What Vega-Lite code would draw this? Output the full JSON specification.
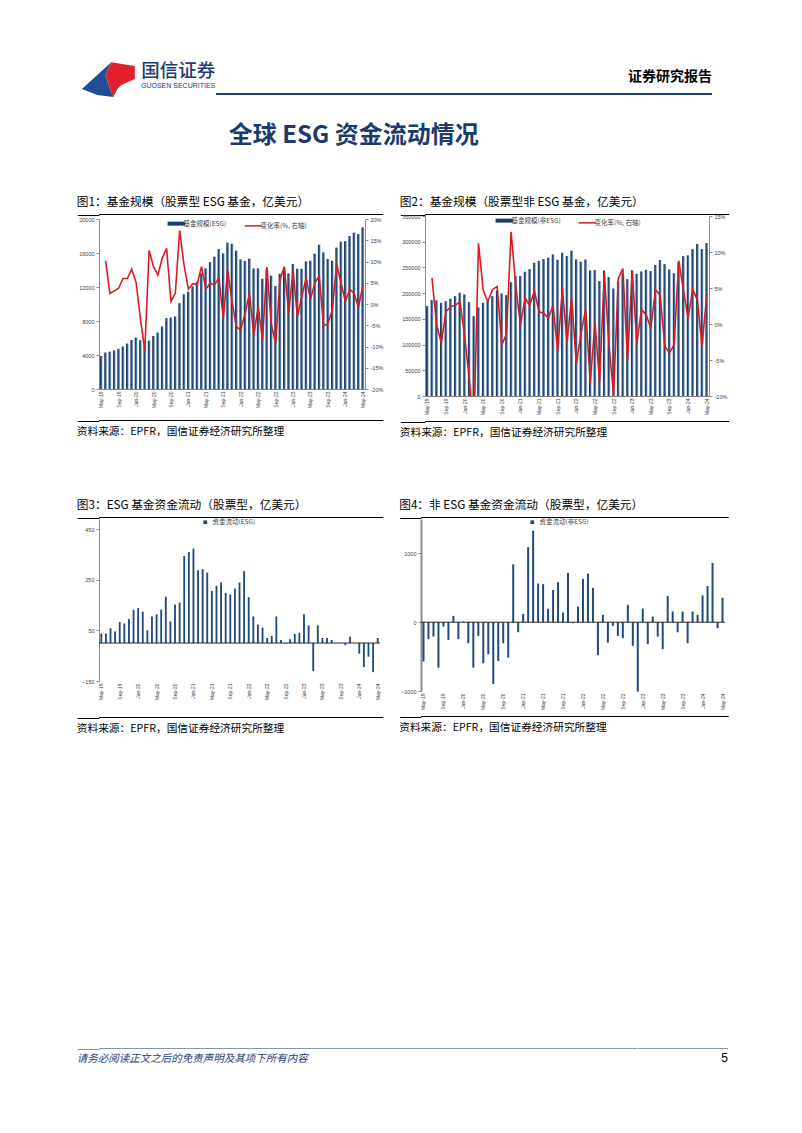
{
  "$schema": "https://vega.github.io/schema/vega-lite/v6.json",
  "background": "white",
  "padding": {"left": 76, "top": 61, "right": 0, "bottom": 0},
  "config": {
    "font": "Noto Sans CJK SC",
    "view": {"stroke": null},
    "axis": {"labelFont": "Liberation Sans", "labelFontSize": 5.5, "labelColor": "#404040", "domainColor": "#8c8c8c", "tickColor": "#8c8c8c", "tickSize": 3, "grid": false, "labelPadding": 2, "labelOverlap": false},
    "legend": {"labelFont": "Noto Sans CJK SC", "labelFontSize": 6.5, "labelColor": "#404040"},
    "title": {"font": "Noto Sans CJK SC", "color": "#000000", "fontWeight": "normal", "anchor": "start"}
  },
  "datasets": {
    "d": [
      {"m":"May-19","a":3890,"ap":null,"b":174700,"bp":null,"c":38,"f":-572},
      {"m":"Jun-19","a":4300,"ap":10.2,"b":186400,"bp":6.4,"c":38,"f":-247},
      {"m":"Jul-19","a":4400,"ap":2.5,"b":186000,"bp":-0.1,"c":58,"f":-209},
      {"m":"Aug-19","a":4540,"ap":3.1,"b":181200,"bp":-2.6,"c":46,"f":-660},
      {"m":"Sep-19","a":4720,"ap":3.7,"b":184300,"bp":1.7,"c":83,"f":-63},
      {"m":"Oct-19","a":5000,"ap":6.0,"b":189000,"bp":2.4,"c":77,"f":-257},
      {"m":"Nov-19","a":5350,"ap":6.0,"b":194200,"bp":2.6,"c":95,"f":92},
      {"m":"Dec-19","a":5760,"ap":8.2,"b":200700,"bp":3.1,"c":131,"f":-247},
      {"m":"Jan-20","a":6060,"ap":5.1,"b":197400,"bp":-1.6,"c":138,"f":10},
      {"m":"Feb-20","a":5740,"ap":-3.5,"b":182500,"bp":-7.5,"c":124,"f":-306},
      {"m":"Mar-20","a":5140,"ap":-10.9,"b":155200,"bp":-15,"c":50,"f":-660},
      {"m":"Apr-20","a":5700,"ap":12.6,"b":172100,"bp":11.2,"c":105,"f":-199},
      {"m":"May-20","a":6250,"ap":8.8,"b":181200,"bp":4.7,"c":113,"f":-597},
      {"m":"Jun-20","a":6640,"ap":6.8,"b":185100,"bp":3.1,"c":132,"f":-466},
      {"m":"Jul-20","a":7350,"ap":10.8,"b":194200,"bp":4.8,"c":183,"f":-897},
      {"m":"Aug-20","a":8330,"ap":13.1,"b":205200,"bp":5.2,"c":85,"f":-563},
      {"m":"Sep-20","a":8410,"ap":0.6,"b":199400,"bp":-2.9,"c":152,"f":-306},
      {"m":"Oct-20","a":8530,"ap":2.5,"b":196100,"bp":-1.4,"c":160,"f":-514},
      {"m":"Nov-20","a":10100,"ap":17.3,"b":221400,"bp":12.8,"c":344,"f":841},
      {"m":"Dec-20","a":11150,"ap":9.2,"b":233100,"bp":5.2,"c":360,"f":-146},
      {"m":"Jan-21","a":11450,"ap":3.5,"b":233100,"bp":-0.1,"c":373,"f":121},
      {"m":"Feb-21","a":12080,"ap":4.8,"b":241600,"bp":3.6,"c":288,"f":1090},
      {"m":"Mar-21","a":12590,"ap":4.6,"b":246800,"bp":2.6,"c":292,"f":1330},
      {"m":"Apr-21","a":13600,"ap":8.8,"b":259100,"bp":4.6,"c":278,"f":562},
      {"m":"May-21","a":14190,"ap":3.5,"b":263000,"bp":1.7,"c":206,"f":553},
      {"m":"Jun-21","a":14940,"ap":4.9,"b":266300,"bp":1.5,"c":226,"f":195},
      {"m":"Jul-21","a":15570,"ap":4.5,"b":268800,"bp":0.8,"c":239,"f":470},
      {"m":"Aug-21","a":16470,"ap":6.1,"b":275300,"bp":2.6,"c":198,"f":582},
      {"m":"Sep-21","a":15960,"ap":-3.4,"b":265000,"bp":-3.8,"c":192,"f":141},
      {"m":"Oct-21","a":17220,"ap":8.0,"b":278600,"bp":5.0,"c":215,"f":716},
      {"m":"Nov-21","a":17100,"ap":0.6,"b":272100,"bp":-2.6,"c":239,"f":-15},
      {"m":"Dec-21","a":16280,"ap":-5.4,"b":282500,"bp":3.7,"c":284,"f":226},
      {"m":"Jan-22","a":15250,"ap":-6.1,"b":265600,"bp":-5.6,"c":181,"f":630},
      {"m":"Feb-22","a":15060,"ap":-2.2,"b":261100,"bp":-1.3,"c":105,"f":706},
      {"m":"Mar-22","a":15340,"ap":2.5,"b":265600,"bp":2.0,"c":72,"f":500},
      {"m":"Apr-22","a":14190,"ap":-7.3,"b":244200,"bp":-8.2,"c":61,"f":-480},
      {"m":"May-22","a":14190,"ap":-0.6,"b":244800,"bp":0.2,"c":20,"f":107},
      {"m":"Jun-22","a":12980,"ap":-8.5,"b":223400,"bp":-8.1,"c":28,"f":-296},
      {"m":"Jul-22","a":14080,"ap":8.7,"b":244200,"bp":7.1,"c":105,"f":-53},
      {"m":"Aug-22","a":13340,"ap":-4.6,"b":231200,"bp":-2.7,"c":12,"f":-199},
      {"m":"Sep-22","a":12110,"ap":-9.4,"b":209100,"bp":-9.9,"c":-2,"f":-233},
      {"m":"Oct-22","a":13570,"ap":5.7,"b":221500,"bp":6.3,"c":15,"f":252},
      {"m":"Nov-22","a":14230,"ap":8.8,"b":238500,"bp":7.7,"c":36,"f":-344},
      {"m":"Dec-22","a":13600,"ap":-2.2,"b":227300,"bp":-5.0,"c":40,"f":-1009},
      {"m":"Jan-23","a":14700,"ap":7.9,"b":244200,"bp":7.4,"c":114,"f":199},
      {"m":"Feb-23","a":14160,"ap":-3.0,"b":237600,"bp":-2.7,"c":70,"f":-320},
      {"m":"Mar-23","a":14160,"ap":1.7,"b":242300,"bp":2.0,"c":-111,"f":82},
      {"m":"Apr-23","a":15020,"ap":6.1,"b":245500,"bp":1.3,"c":70,"f":-209},
      {"m":"May-23","a":15100,"ap":1.1,"b":243000,"bp":-0.6,"c":20,"f":-393},
      {"m":"Jun-23","a":15920,"ap":5.0,"b":254800,"bp":4.8,"c":20,"f":380},
      {"m":"Jul-23","a":16980,"ap":6.6,"b":264300,"bp":4.0,"c":12,"f":155},
      {"m":"Aug-23","a":16080,"ap":-5.2,"b":256500,"bp":-3.1,"c":0,"f":-146},
      {"m":"Sep-23","a":15290,"ap":-4.6,"b":246100,"bp":-4.0,"c":1,"f":155},
      {"m":"Oct-23","a":15100,"ap":-1.4,"b":238900,"bp":-2.9,"c":-9,"f":-306},
      {"m":"Nov-23","a":16630,"ap":9.4,"b":260000,"bp":8.8,"c":25,"f":155},
      {"m":"Dec-23","a":17330,"ap":4.9,"b":272000,"bp":4.7,"c":0,"f":107},
      {"m":"Jan-24","a":17400,"ap":0.6,"b":273500,"bp":0.8,"c":-42,"f":390},
      {"m":"Feb-24","a":17990,"ap":3.5,"b":285700,"bp":4.8,"c":-95,"f":524},
      {"m":"Mar-24","a":18390,"ap":2.5,"b":295500,"bp":3.3,"c":-54,"f":860},
      {"m":"Apr-24","a":18230,"ap":-0.8,"b":285700,"bp":-3.1,"c":-115,"f":-87},
      {"m":"May-24","a":19020,"ap":4.3,"b":297400,"bp":4.0,"c":20,"f":356}
    ]
  },
  "resolve": {"scale": {"color": "independent"}, "legend": {"color": "independent"}},
  "vconcat": [
    {
      "resolve": {"scale": {"color": "independent"}, "legend": {"color": "independent"}},
      "vconcat": [
        {
          "bounds": "flush",
          "hconcat": [
            {"width": 30, "height": 2, "data": {"values": [{}]},
             "layer": [
               {"mark": {"type": "point", "filled": true, "opacity": 1, "size": 3025, "color": "#1f4e96", "strokeWidth": 0,
                         "shape": "M-1.167,-0.182L-0.098,-1.153L-0.316,-0.691L-0.171,-0.255L-0.025,0.109L-0.607,0.036Z"}, "encoding": {}},
               {"mark": {"type": "point", "filled": true, "opacity": 1, "size": 3025, "color": "#e0202a", "strokeWidth": 0,
                         "shape": "M-0.098,-1.153L0.756,-1.018L0.756,-0.545L0.265,-0.327L0.12,-0.182L-0.025,0.109L-0.171,-0.255L-0.316,-0.691Z"}, "encoding": {}}
             ]},
            {"width": 86.3, "height": 2, "data": {"values": []}, "mark": "rule", "encoding": {},
             "title": {"text": "国信证券", "subtitle": "GUOSEN SECURITIES", "anchor": "end", "fontSize": 18.5, "fontWeight": 500, "color": "#1d3b78", "subtitleFont": "Liberation Sans", "subtitleFontSize": 7, "subtitleColor": "#1d3b78", "subtitlePadding": 2, "offset": 4}},
            {"width": 496, "height": 2, "data": {"values": []}, "mark": "rule", "encoding": {},
             "view": {"fill": "#1f3d7a", "stroke": null},
             "title": {"text": "证券研究报告", "anchor": "end", "fontSize": 14, "fontWeight": "bold", "color": "#000000", "offset": 9}}
          ],
          "spacing": 0
        },
        {
          "title": {"text": "全球 ESG 资金流动情况", "anchor": "start", "dx": 152, "fontSize": 24, "fontWeight": "bold", "color": "#1c3b6c", "offset": 49},
          "resolve": {"scale": {"color": "independent"}, "legend": {"color": "independent"}},
          "vconcat": [
            {
              "resolve": {"scale": {"color": "independent"}, "legend": {"color": "independent"}},
              "hconcat": [
                {
                  "resolve": {"scale": {"color": "independent"}, "legend": {"color": "independent"}},
                  "vconcat": [
                    {
                      "resolve": {"scale": {"color": "independent"}, "legend": {"color": "independent"}},
                      "vconcat": [
                        {"width": 284.3, "height": 1, "data": {"values": []}, "mark": "rule",
                         "encoding": {"y": {"datum": 0.5, "type": "quantitative", "scale": {"domain": [0, 1]}, "axis": {"values": [0.5], "tickSize": 21.7, "tickColor": "#000000", "tickWidth": 1, "labels": false, "domain": false, "title": null}}},
                         "view": {"fill": "#000000", "stroke": null},
                         "title": {"text": "图1：基金规模（股票型 ESG 基金，亿美元）", "fontSize": 11.7, "offset": 5}},
                        {
                          "width": 266, "height": 170,
                          "data": {"name": "d"},
                          "layer": [
                            {"mark": {"type": "bar", "fill": {"gradient": "linear", "x1": 0, "y1": 0, "x2": 1, "y2": 0, "stops": [{"offset": 0, "color": "#0e2a50"}, {"offset": 0.55, "color": "#2d5a8c"}, {"offset": 1, "color": "#9db6d2"}]}},
                             "encoding": {
                               "x": {"field": "m", "type": "ordinal", "sort": null, "title": null, "scale": {"paddingInner": 0.4, "paddingOuter": 0.2},
                                     "axis": {"values": ["May-19","Sep-19","Jan-20","May-20","Sep-20","Jan-21","May-21","Sep-21","Jan-22","May-22","Sep-22","Jan-23","May-23","Sep-23","Jan-24","May-24"], "labelAngle": -90, "labelFontSize": 5, "ticks": false, "domainColor": "#7f7f7f"}},
                               "y": {"field": "a", "type": "quantitative", "title": null, "scale": {"domain": [0, 20000], "nice": false},
                                     "axis": {"values": [0, 4000, 8000, 12000, 16000, 20000], "orient": "left", "format": "d", "labelOverlap": false}}}},
                            {"mark": {"type": "line", "strokeWidth": 1.6, "clip": true},
                             "encoding": {
                               "x": {"field": "m", "type": "ordinal", "sort": null, "title": null, "scale": {"paddingInner": 0.4, "paddingOuter": 0.2}},
                               "y": {"field": "ap", "type": "quantitative", "title": null, "scale": {"domain": [-20, 20], "nice": false},
                                     "axis": {"values": [-20, -15, -10, -5, 0, 5, 10, 15, 20], "orient": "right", "labelExpr": "datum.value + '%'", "labelOverlap": false}},
                               "color": {"datum": "变化率(%, 右轴)", "type": "nominal",
                                         "scale": {"domain": ["基金规模(ESG)", "变化率(%, 右轴)"], "range": ["#1c3f6e", "#dc1a22"]},
                                         "legend": {"title": null, "orient": "none", "legendX": 74, "legendY": 1, "direction": "horizontal", "symbolType": "stroke", "symbolSize": 300, "symbolStrokeWidth": 1.5, "columnPadding": 14,
                                                    "encode": {"symbols": {"update": {"strokeWidth": {"signal": "datum.value === '基金规模(ESG)' ? 4 : 1.5"}}}}}}}}
                          ],
                          "resolve": {"scale": {"y": "independent"}}
                        }
                      ],
                      "spacing": 1
                    },
                    {"width": 284.3, "height": 1, "data": {"values": []}, "mark": "rule",
                     "encoding": {"y": {"datum": 0.5, "type": "quantitative", "scale": {"domain": [0, 1]}, "axis": {"values": [0.5], "tickSize": 21.7, "tickColor": "#000000", "tickWidth": 1, "labels": false, "domain": false, "title": null}}},
                     "view": {"fill": "#000000", "stroke": null},
                     "title": {"text": "资料来源：EPFR，国信证券经济研究所整理", "orient": "bottom", "fontSize": 10.7, "offset": 5}}
                  ],
                  "spacing": 12
                },
                {
                  "resolve": {"scale": {"color": "independent"}, "legend": {"color": "independent"}},
                  "vconcat": [
                    {
                      "resolve": {"scale": {"color": "independent"}, "legend": {"color": "independent"}},
                      "vconcat": [
                        {"width": 304.3, "height": 1, "data": {"values": []}, "mark": "rule",
                         "encoding": {"y": {"datum": 0.5, "type": "quantitative", "scale": {"domain": [0, 1]}, "axis": {"values": [0.5], "tickSize": 24.7, "tickColor": "#000000", "tickWidth": 1, "labels": false, "domain": false, "title": null}}},
                         "view": {"fill": "#000000", "stroke": null},
                         "title": {"text": "图2：基金规模（股票型非 ESG 基金，亿美元）", "fontSize": 11.7, "offset": 5}},
                        {
                          "width": 284, "height": 180,
                          "data": {"name": "d"},
                          "layer": [
                            {"mark": {"type": "bar", "fill": {"gradient": "linear", "x1": 0, "y1": 0, "x2": 1, "y2": 0, "stops": [{"offset": 0, "color": "#0e2a50"}, {"offset": 0.55, "color": "#2d5a8c"}, {"offset": 1, "color": "#9db6d2"}]}},
                             "encoding": {
                               "x": {"field": "m", "type": "ordinal", "sort": null, "title": null, "scale": {"paddingInner": 0.45, "paddingOuter": 0.22},
                                     "axis": {"values": ["May-19","Sep-19","Jan-20","May-20","Sep-20","Jan-21","May-21","Sep-21","Jan-22","May-22","Sep-22","Jan-23","May-23","Sep-23","Jan-24","May-24"], "labelAngle": -90, "labelFontSize": 5, "ticks": false, "domainColor": "#7f7f7f"}},
                               "y": {"field": "b", "type": "quantitative", "title": null, "scale": {"domain": [0, 350000], "nice": false},
                                     "axis": {"values": [0, 50000, 100000, 150000, 200000, 250000, 300000, 350000], "orient": "left", "format": "d", "labelOverlap": false}}}},
                            {"mark": {"type": "line", "strokeWidth": 1.6, "clip": true},
                             "encoding": {
                               "x": {"field": "m", "type": "ordinal", "sort": null, "title": null, "scale": {"paddingInner": 0.45, "paddingOuter": 0.22}},
                               "y": {"field": "bp", "type": "quantitative", "title": null, "scale": {"domain": [-10, 15], "nice": false},
                                     "axis": {"values": [-10, -5, 0, 5, 10, 15], "orient": "right", "labelExpr": "datum.value + '%'", "labelOverlap": false}},
                               "color": {"datum": "变化率(%, 右轴)", "type": "nominal",
                                         "scale": {"domain": ["基金规模(非ESG)", "变化率(%, 右轴)"], "range": ["#1c3f6e", "#dc1a22"]},
                                         "legend": {"title": null, "orient": "none", "legendX": 76, "legendY": 1, "direction": "horizontal", "symbolType": "stroke", "symbolSize": 300, "symbolStrokeWidth": 1.5, "columnPadding": 14,
                                                    "encode": {"symbols": {"update": {"strokeWidth": {"signal": "datum.value === '基金规模(非ESG)' ? 4 : 1.5"}}}}}}}}
                          ],
                          "resolve": {"scale": {"y": "independent"}}
                        }
                      ],
                      "spacing": -2
                    },
                    {"width": 304.3, "height": 1, "data": {"values": []}, "mark": "rule",
                     "encoding": {"y": {"datum": 0.5, "type": "quantitative", "scale": {"domain": [0, 1]}, "axis": {"values": [0.5], "tickSize": 24.7, "tickColor": "#000000", "tickWidth": 1, "labels": false, "domain": false, "title": null}}},
                     "view": {"fill": "#000000", "stroke": null},
                     "title": {"text": "资料来源：EPFR，国信证券经济研究所整理", "orient": "bottom", "fontSize": 10.7, "offset": 5}}
                  ],
                  "spacing": 6
                }
              ],
              "spacing": 15
            },
            {
              "resolve": {"scale": {"color": "independent"}, "legend": {"color": "independent"}},
              "hconcat": [
                {
                  "resolve": {"scale": {"color": "independent"}, "legend": {"color": "independent"}},
                  "vconcat": [
                    {
                      "resolve": {"scale": {"color": "independent"}, "legend": {"color": "independent"}},
                      "vconcat": [
                        {"width": 284.3, "height": 1, "data": {"values": []}, "mark": "rule",
                         "encoding": {"y": {"datum": 0.5, "type": "quantitative", "scale": {"domain": [0, 1]}, "axis": {"values": [0.5], "tickSize": 21.7, "tickColor": "#000000", "tickWidth": 1, "labels": false, "domain": false, "title": null}}},
                         "view": {"fill": "#000000", "stroke": null},
                         "title": {"text": "图3：ESG 基金资金流动（股票型，亿美元）", "fontSize": 11.7, "offset": 5}},
                        {
                          "width": 281, "height": 162,
                          "data": {"name": "d"},
                          "layer": [
                            {"mark": {"type": "bar"},
                             "encoding": {
                               "x": {"field": "m", "type": "ordinal", "sort": null, "title": null, "scale": {"paddingInner": 0.6, "paddingOuter": 0.3},
                                     "axis": {"values": ["May-19","Sep-19","Jan-20","May-20","Sep-20","Jan-21","May-21","Sep-21","Jan-22","May-22","Sep-22","Jan-23","May-23","Sep-23","Jan-24","May-24"], "labelAngle": -90, "labelFontSize": 5, "ticks": false, "domain": false}},
                               "y": {"field": "c", "type": "quantitative", "title": null, "scale": {"domain": [-150, 490], "nice": false, "zero": false},
                                     "axis": {"values": [-150, -50, 50, 150, 250, 350, 450], "orient": "left", "labelOverlap": false}},
                               "color": {"datum": "资金流动(ESG)", "type": "nominal", "scale": {"domain": ["资金流动(ESG)"], "range": ["#1f4a7a"]},
                                         "legend": {"title": null, "orient": "none", "legendX": 103, "legendY": 0, "symbolType": "square", "symbolSize": 14}}}},
                            {"data": {"values": [{}]}, "mark": {"type": "rule", "color": "#262626", "strokeWidth": 1},
                             "encoding": {"y": {"datum": 0}}}
                          ]
                        }
                      ],
                      "spacing": 0
                    },
                    {"width": 284.3, "height": 1, "data": {"values": []}, "mark": "rule",
                     "encoding": {"y": {"datum": 0.5, "type": "quantitative", "scale": {"domain": [0, 1]}, "axis": {"values": [0.5], "tickSize": 21.7, "tickColor": "#000000", "tickWidth": 1, "labels": false, "domain": false, "title": null}}},
                     "view": {"fill": "#000000", "stroke": null},
                     "title": {"text": "资料来源：EPFR，国信证券经济研究所整理", "orient": "bottom", "fontSize": 10.7, "offset": 5}}
                  ],
                  "spacing": 17
                },
                {
                  "resolve": {"scale": {"color": "independent"}, "legend": {"color": "independent"}},
                  "vconcat": [
                    {
                      "resolve": {"scale": {"color": "independent"}, "legend": {"color": "independent"}},
                      "vconcat": [
                        {"width": 307.7, "height": 1, "data": {"values": []}, "mark": "rule",
                         "encoding": {"y": {"datum": 0.5, "type": "quantitative", "scale": {"domain": [0, 1]}, "axis": {"values": [0.5], "tickSize": 21.3, "tickColor": "#000000", "tickWidth": 1, "labels": false, "domain": false, "title": null}}},
                         "view": {"fill": "#000000", "stroke": null},
                         "title": {"text": "图4：非 ESG 基金资金流动（股票型，亿美元）", "fontSize": 11.7, "offset": 5}},
                        {
                          "width": 304, "height": 172,
                          "data": {"name": "d"},
                          "layer": [
                            {"mark": {"type": "bar"},
                             "encoding": {
                               "x": {"field": "m", "type": "ordinal", "sort": null, "title": null, "scale": {"paddingInner": 0.6, "paddingOuter": 0.3},
                                     "axis": {"values": ["May-19","Sep-19","Jan-20","May-20","Sep-20","Jan-21","May-21","Sep-21","Jan-22","May-22","Sep-22","Jan-23","May-23","Sep-23","Jan-24","May-24"], "labelAngle": -90, "labelFontSize": 5, "ticks": false, "domain": false}},
                               "y": {"field": "f", "type": "quantitative", "title": null, "scale": {"domain": [-1000, 1500], "nice": false},
                                     "axis": {"values": [-1000, -500, 0, 500, 1000, 1500], "orient": "left", "format": "d", "domainWidth": 2, "domainColor": "#8c8c8c", "labelOverlap": false}},
                               "color": {"datum": "资金流动(非ESG)", "type": "nominal", "scale": {"domain": ["资金流动(非ESG)"], "range": ["#1f4a7a"]},
                                         "legend": {"title": null, "orient": "none", "legendX": 108, "legendY": 0, "symbolType": "square", "symbolSize": 14}}}},
                            {"data": {"values": [{}]}, "mark": {"type": "rule", "color": "#262626", "strokeWidth": 1},
                             "encoding": {"y": {"datum": 0}}}
                          ]
                        }
                      ],
                      "spacing": 0
                    },
                    {"width": 307.7, "height": 1, "data": {"values": []}, "mark": "rule",
                     "encoding": {"y": {"datum": 0.5, "type": "quantitative", "scale": {"domain": [0, 1]}, "axis": {"values": [0.5], "tickSize": 21.3, "tickColor": "#000000", "tickWidth": 1, "labels": false, "domain": false, "title": null}}},
                     "view": {"fill": "#000000", "stroke": null},
                     "title": {"text": "资料来源：EPFR，国信证券经济研究所整理", "orient": "bottom", "fontSize": 10.7, "offset": 5}}
                  ],
                  "spacing": 6
                }
              ],
              "spacing": 15
            }
          ],
          "spacing": 62
        }
      ],
      "spacing": 27
    },
    {
      "hconcat": [
        {"width": 538.3, "height": 1, "data": {"values": []}, "mark": "rule",
         "encoding": {"y": {"datum": 0.5, "type": "quantitative", "scale": {"domain": [0, 1]}, "axis": {"values": [0.5], "tickSize": 21.7, "tickColor": "#8497b0", "tickWidth": 1, "labels": false, "domain": false, "title": null}}},
         "view": {"fill": "#8497b0", "stroke": null},
         "title": {"text": "请务必阅读正文之后的免责声明及其项下所有内容", "orient": "bottom", "anchor": "start", "fontSize": 10.5, "fontStyle": "italic", "color": "#1f3d7a", "offset": 4}},
        {"width": 90, "height": 1, "data": {"values": []}, "mark": "rule", "encoding": {},
         "view": {"fill": "#8497b0", "stroke": null},
         "title": {"text": "5", "orient": "bottom", "anchor": "end", "fontSize": 12, "font": "Liberation Sans", "color": "#000000", "offset": 4}}
      ],
      "spacing": 0
    }
  ],
  "spacing": 314
}
